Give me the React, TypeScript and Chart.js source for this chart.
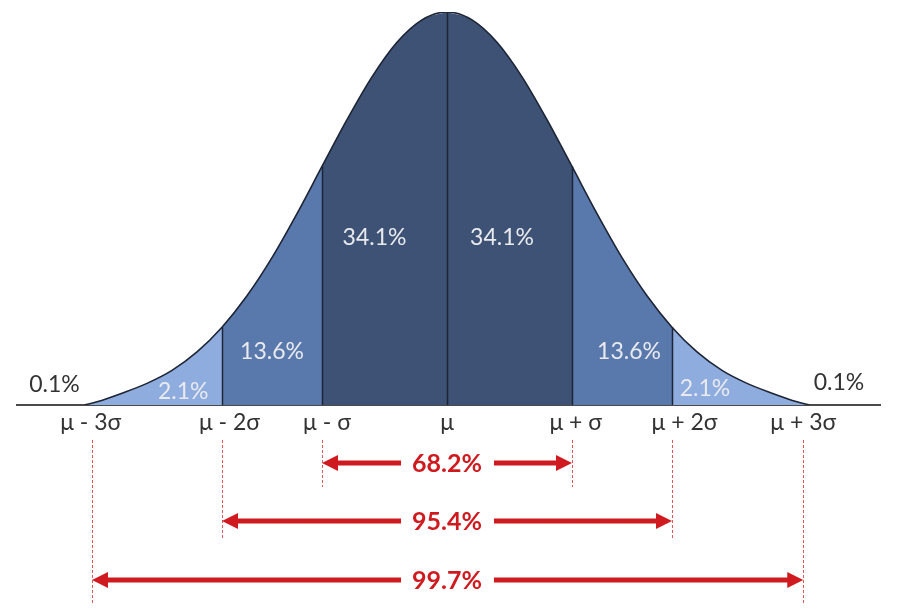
import React, { useEffect, useRef } from "react";
import { Chart, registerables } from "chart.js";

Chart.register(...registerables);

// Curve heights (x in σ units, y relative to peak)
const curveX = [-2.9, -2.8, -2.6, -2.4, -2.2, -2.0, -1.8, -1.6, -1.4, -1.2, -1.0, -0.8, -0.6, -0.4, -0.2, 0, 0.2, 0.4, 0.6, 0.8, 1.0, 1.2, 1.4, 1.6, 1.8, 2.0, 2.2, 2.4, 2.6, 2.8, 2.9];
const curveY = [0, 0.008, 0.03, 0.055, 0.088, 0.135, 0.198, 0.278, 0.375, 0.487, 0.607, 0.726, 0.835, 0.923, 0.98, 1.0, 0.98, 0.923, 0.835, 0.726, 0.607, 0.487, 0.375, 0.278, 0.198, 0.135, 0.088, 0.055, 0.03, 0.008, 0];

// Shaded bands (start, end) and dividing lines
const bandStart = [-2.9, -1.8, -1.0, 0, 1.0, 1.8];
const bandEnd = [-1.8, -1.0, 0, 1.0, 1.8, 2.9];
const dividers = [-1.8, -1.0, 0, 1.0, 1.8];

// Axis tick labels
const tickPos = [-2.85, -1.74, -0.96, 0, 1.03, 1.9, 2.85];
const tickLabels = ["μ - 3σ", "μ - 2σ", "μ - σ", "μ", "μ + σ", "μ + 2σ", "μ + 3σ"];

// Percentage labels inside / beside the bands
const bandLabels = ["0.1%", "2.1%", "13.6%", "34.1%", "34.1%", "13.6%", "2.1%", "0.1%"];
const bandLabelX = [-3.14, -2.11, -1.4, -0.58, 0.44, 1.456, 2.064, 3.136];
const bandLabelY = [0.051, 0.033, 0.137, 0.425, 0.425, 0.135, 0.041, 0.056];

// Coverage ranges
const rangeLabels = ["68.2%", "95.4%", "99.7%"];
const rangeFrom = [-1.0, -1.8, -2.84];
const rangeTo = [1.0, 1.8, 2.85];

const BAND_COLORS = ["#8eacdd", "#5979ac", "#3e5275", "#3e5275", "#5979ac", "#8eacdd"];
const RED = "#cf1b1f";
const ROW_Y = [463, 521, 580];
const DASH_BOTTOM = [487, 538, 603];
const DASH_TOP = 440;

function pts(a: number, b: number) {
  const out: { x: number; y: number }[] = [];
  curveX.forEach((x, i) => {
    if (x >= a - 1e-9 && x <= b + 1e-9) out.push({ x, y: curveY[i] });
  });
  return out;
}

const overlay = {
  id: "overlay",
  afterDatasetsDraw(chart: any) {
    const { ctx } = chart;
    const x = chart.scales.x;
    const y = chart.scales.y;
    ctx.save();
    ctx.strokeStyle = "#1c2535";
    ctx.lineWidth = 1.5;
    dividers.forEach((d) => {
      const i = curveX.indexOf(d);
      const px = Math.round(x.getPixelForValue(d)) + 0.5;
      ctx.beginPath();
      ctx.moveTo(px, y.getPixelForValue(0));
      ctx.lineTo(px, y.getPixelForValue(curveY[i]));
      ctx.stroke();
    });
    ctx.restore();
  },
  afterDraw(chart: any) {
    const { ctx } = chart;
    const x = chart.scales.x;
    const y = chart.scales.y;
    ctx.save();
    // band labels
    ctx.textAlign = "center";
    ctx.textBaseline = "middle";
    ctx.font = "23px Lato";
    bandLabels.forEach((t, i) => {
      const outside = i === 0 || i === bandLabels.length - 1;
      ctx.fillStyle = outside ? "#333333" : "#e8eaee";
      ctx.fillText(t, x.getPixelForValue(bandLabelX[i]), y.getPixelForValue(bandLabelY[i]));
    });

    // dashed guide lines
    ctx.strokeStyle = "rgba(214,60,60,0.85)";
    ctx.lineWidth = 1;
    ctx.setLineDash([3, 2]);
    rangeFrom.forEach((a, i) => {
      [a, rangeTo[i]].forEach((v) => {
        const px = Math.round(x.getPixelForValue(v)) + 0.5;
        ctx.beginPath();
        ctx.moveTo(px, DASH_TOP);
        ctx.lineTo(px, DASH_BOTTOM[i]);
        ctx.stroke();
      });
    });
    ctx.setLineDash([]);

    // arrows with labels
    ctx.font = "bold 25px Lato";
    ctx.fillStyle = RED;
    const head = 16;
    const half = 8;
    const shaft = 5;
    rangeLabels.forEach((t, i) => {
      const x0 = x.getPixelForValue(rangeFrom[i]);
      const x1 = x.getPixelForValue(rangeTo[i]);
      const cy = ROW_Y[i];
      const cx = x.getPixelForValue(0);
      const w = ctx.measureText(t).width;
      const gapL = cx - w / 2 - 11;
      const gapR = cx + w / 2 + 12;
      ctx.fillRect(x0 + head - 1, cy - shaft / 2, gapL - (x0 + head - 1), shaft);
      ctx.fillRect(gapR, cy - shaft / 2, x1 - head + 1 - gapR, shaft);
      ctx.beginPath();
      ctx.moveTo(x0, cy);
      ctx.lineTo(x0 + head, cy - half);
      ctx.lineTo(x0 + head, cy + half);
      ctx.closePath();
      ctx.fill();
      ctx.beginPath();
      ctx.moveTo(x1, cy);
      ctx.lineTo(x1 - head, cy - half);
      ctx.lineTo(x1 - head, cy + half);
      ctx.closePath();
      ctx.fill();
      ctx.textAlign = "center";
      ctx.textBaseline = "middle";
      ctx.fillText(t, cx, cy + 1);
    });
    ctx.restore();
  },
};

export default function App() {
  const ref = useRef<HTMLCanvasElement>(null);
  useEffect(() => {
    if (!ref.current) return;
    const bandSets = bandStart.map((a, i) => ({
      type: "line" as const,
      data: pts(a, bandEnd[i]),
      backgroundColor: BAND_COLORS[i],
      borderWidth: 0,
      borderColor: "transparent",
      fill: "origin",
      pointRadius: 0,
      cubicInterpolationMode: "monotone" as const,
      order: 2,
    }));
    const outline = {
      type: "line" as const,
      data: curveX.map((v, i) => ({ x: v, y: curveY[i] })),
      borderColor: "#1d2435",
      borderWidth: 1.6,
      fill: false,
      pointRadius: 0,
      cubicInterpolationMode: "monotone" as const,
      order: 1,
    };
    const chart = new Chart(ref.current, {
      type: "line",
      data: { datasets: [...bandSets, outline] as any },
      options: {
        animation: false,
        responsive: false,
        devicePixelRatio: 1,
        layout: { padding: { left: 17, right: 22, top: 12, bottom: 173.4 } },
        plugins: { legend: { display: false }, tooltip: { enabled: false } },
        scales: {
          x: {
            type: "linear",
            min: -3.44,
            max: 3.464,
            grid: { display: false, drawTicks: false },
            border: { display: true, color: "#4a4a4a", width: 2 },
            afterBuildTicks: (scale: any) => {
              scale.ticks = tickPos.map((v) => ({ value: v }));
            },
            ticks: {
              autoSkip: false,
              maxRotation: 0,
              padding: 4,
              color: "#333333",
              font: { family: "Lato", size: 23 },
              callback: (_v: any, idx: number) => tickLabels[idx],
            },
          },
          y: { type: "linear", min: 0, max: 1, display: false },
        },
      },
      plugins: [overlay],
    });
    return () => chart.destroy();
  }, []);
  return (
    <div style={{ position: "fixed", left: 0, top: 0, width: 902, height: 614, background: "#ffffff" }}>
      <canvas ref={ref} width={902} height={614} />
    </div>
  );
}
